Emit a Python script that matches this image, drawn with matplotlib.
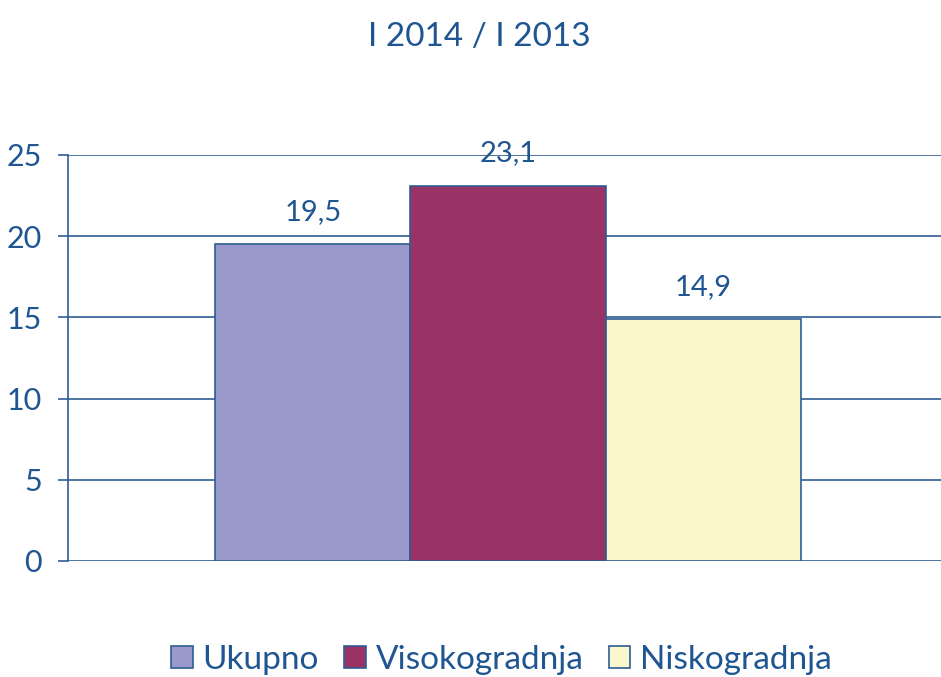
import matplotlib.pyplot as plt
import numpy as np
from matplotlib.patches import Patch

plt.rcParams['font.family'] = ['Lato', 'DejaVu Sans']

# 数据
categories = ['Ukupno', 'Visokogradnja', 'Niskogradnja']
values = [19.5, 23.1, 14.9]
labels = ['19,5', '23,1', '14,9']
colors = ['#9999CC', '#993366', '#FAF7CC']
title = 'I 2014 / I 2013'

text_color = '#1F5591'
line_color = '#2F5C93'

fig = plt.figure(figsize=(9.41, 6.77), dpi=100)
ax = fig.add_axes([68 / 941, 116 / 677, 873 / 941, 406 / 677])

x = np.arange(len(categories)) - 1
bars = ax.bar(x, values, width=1.0, color=colors, edgecolor=line_color, linewidth=1.2, zorder=3)

for b, lab in zip(bars, labels):
    ax.annotate(lab, xy=(b.get_x() + b.get_width() / 2, b.get_height()),
                xytext=(0, 14), textcoords='offset points',
                ha='center', va='bottom', fontsize=21, color=text_color)

ax.set_xlim(-2.256, 2.22)
ax.set_ylim(0, 25)
ax.set_yticks([0, 5, 10, 15, 20, 25])
ax.set_yticklabels(['0', '5', '10', '15', '20', '25'])
ax.tick_params(axis='y', length=7, width=1.2, color=line_color, labelcolor=text_color,
               labelsize=22, pad=12)
ax.tick_params(axis='x', bottom=False, labelbottom=False)
ax.grid(axis='y', color=line_color, linewidth=1.2, zorder=0)

for s in ['top', 'right', 'bottom']:
    ax.spines[s].set_visible(False)
ax.spines['left'].set_color(line_color)
ax.spines['left'].set_linewidth(1.2)

fig.text(0.509, 0.945, title, ha='center', va='center', fontsize=24, color=text_color)

handles = [Patch(facecolor=c, edgecolor=line_color, linewidth=1.2) for c in colors]
leg = fig.legend(handles, categories, loc='center', bbox_to_anchor=(0.533, 0.025),
                 ncol=3, frameon=False, fontsize=24, handlelength=0.65, handleheight=0.65,
                 handletextpad=0.3, columnspacing=0.75)
for t in leg.get_texts():
    t.set_color(text_color)

plt.savefig('out.png', dpi=100)
